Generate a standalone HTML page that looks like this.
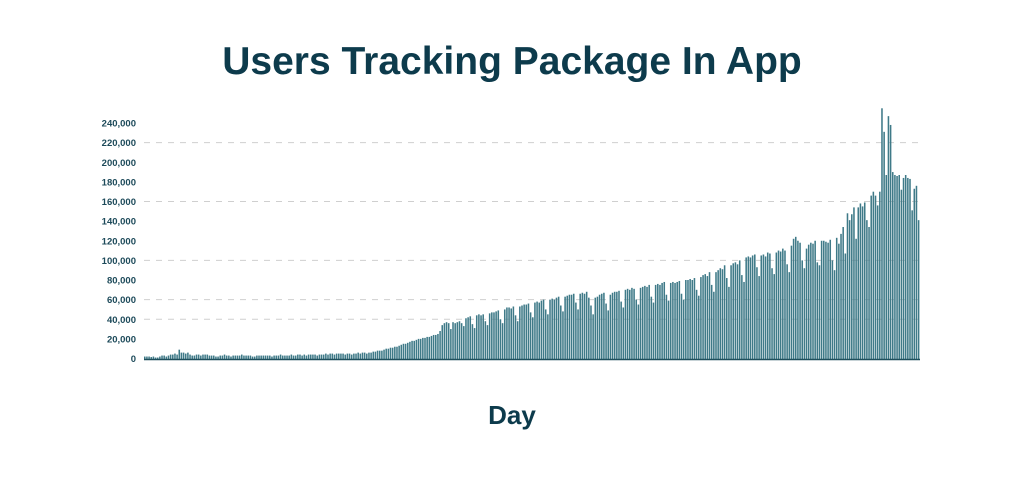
<!DOCTYPE html>
<html><head><meta charset="utf-8"><style>
body{margin:0;background:#fff;width:1024px;height:472px;overflow:hidden;font-family:"Liberation Sans",sans-serif}
</style></head><body>
<svg width="1024" height="472">
<text x="512" y="74" text-anchor="middle" font-size="39" font-weight="bold" fill="#0d3b4c">Users Tracking Package In App</text>
<g id="grid"></g>
<g id="yaxis"></g>
<g id="bars"></g>
<line x1="144" y1="359.5" x2="920" y2="359.5" stroke="#1f4f5c" stroke-width="1.5"/>
<text x="512" y="424" text-anchor="middle" font-size="26" font-weight="bold" fill="#0d3b4c">Day</text>
</svg>
<script>
const yTicks=[0,20000,40000,60000,80000,100000,120000,140000,160000,180000,200000,220000,240000];
const gridValues=[40000,60000,100000,160000,220000];
const values=[
2,2,2,1.5,2,1,1, 2,3,3,2,3,4,4, 5,4,9,6,6,5,6, 4,3,3,4,4,3,4, 4,4,3,3,3,2,2,
3,3,4,3,3,2,3, 3,3,3,4,3,3,3, 3,2,2,3,3,3,3, 3,3,3,2,3,3,3, 4,3,3,3,3,4,3,
3,4,4,3,4,3,4, 4,4,4,3,4,4,4, 5,4,5,5,4,5,5, 5,5,4,5,5,4,5, 5,6,5,6,6,5,6,
6,7,7,8,8,8,9, 10,10,11,11,12,12,13, 14,15,15,16,17,18,18, 19,20,20,21,21,22,22,
23,24,24,25,28,34,36, 37,36,30,37,36,37,38, 36,33,41,42,43,35,31, 44,45,44,45,38,34,46,
47,47,48,49,40,36,50, 52,52,51,53,44,38,53, 54,55,55,56,47,42,57, 58,57,59,60,50,45,60,
61,60,62,63,54,48,63, 64,65,65,66,57,50,66, 67,66,68,62,54,45,62, 63,65,66,67,56,49,65,
67,68,68,69,58,52,70, 71,70,72,71,60,55,72, 73,74,73,75,63,57,75, 76,75,77,78,65,59,77,
78,77,78,79,66,60,80, 80,81,80,82,70,64,83, 85,86,84,88,75,68,88, 90,92,91,95,82,73,95,
97,98,96,100,85,78,103, 104,103,105,106,93,84,105, 106,104,108,107,92,86,108, 110,109,112,110,96,88,115,
122,124,120,118,100,92,112, 116,118,117,120,98,95,120, 120,119,118,121,100,90,123, 117,127,134,107,148,141,147,
154,122,154,158,155,159,141, 134,166,170,166,156,170,255, 231,187,247,238,190,187,186, 187,172,184,187,184,183,151,
173,176,141
].map(v=>v*1000);
const NS="http://www.w3.org/2000/svg";
const X0=144,X1=920,Y0=358.5;
function y(v){return Y0-v*235.5/240000;}
const step=(X1-X0)/values.length;
function x(i){return X0+i*step;}
const grid=document.getElementById('grid');
gridValues.forEach(v=>{
 const l=document.createElementNS(NS,'line');
 l.setAttribute('x1',X0);l.setAttribute('x2',X1);l.setAttribute('y1',y(v));l.setAttribute('y2',y(v));
 l.setAttribute('stroke','#cfcfcf');l.setAttribute('stroke-dasharray','6,6');
 
 
 grid.appendChild(l);
});
const ya=document.getElementById('yaxis');
yTicks.forEach(v=>{
 const t=document.createElementNS(NS,'text');
 t.setAttribute('x',136);t.setAttribute('y',y(v)+3.5);t.setAttribute('text-anchor','end');
 t.setAttribute('font-size','9.5');t.setAttribute('font-weight','bold');t.setAttribute('fill','#1d4a5a');
 t.textContent=v.toLocaleString('en-US');
 
 
 ya.appendChild(t);
});
const bars=document.getElementById('bars');
values.forEach((v,i)=>{
 const r=document.createElementNS(NS,'rect');
 r.setAttribute('x',x(i));r.setAttribute('width',step*0.72);
 r.setAttribute('y',y(v));r.setAttribute('height',Y0+1-y(v));
 r.setAttribute('fill','#3f7a88');
 
 
 bars.appendChild(r);
});
</script>
</body></html>
